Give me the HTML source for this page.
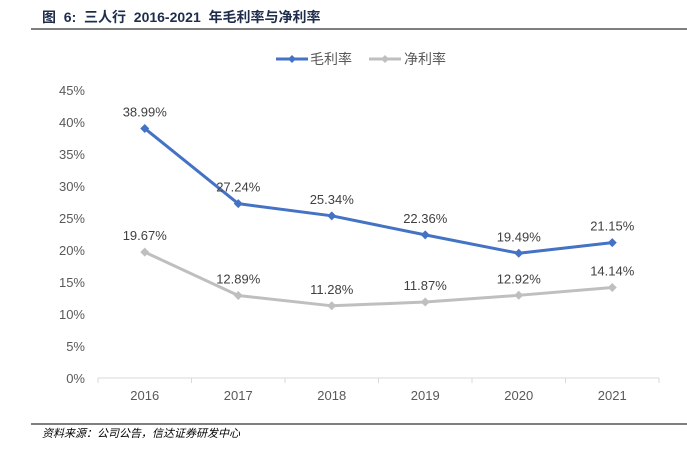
<!DOCTYPE html>
<html><head><meta charset="utf-8"><style>
body{margin:0;width:687px;height:448px;background:#fff;overflow:hidden;font-family:"Liberation Sans","Noto Sans CJK SC",sans-serif}
</style></head><body>
<svg width="687" height="448" font-family="Liberation Sans, Noto Sans CJK SC, sans-serif">
<text x="42" y="22" font-size="14" font-weight="bold" fill="#1f2d4d" xml:space="preserve" style="white-space:pre">图  6:  三人行  2016-2021  年毛利率与净利率</text>
<line x1="31" y1="29" x2="687" y2="29" stroke="#333" stroke-width="1.2"/>
<g>
<g><line x1="276" y1="59" x2="308" y2="59" stroke="#4472c4" stroke-width="3"/><path d="M292 55l4 4-4 4-4-4z" fill="#4472c4"/><text x="310" y="64" font-size="14" fill="#595959">毛利率</text></g>
<g><line x1="369" y1="59" x2="401" y2="59" stroke="#bfbfbf" stroke-width="3"/><path d="M385 55l4 4-4 4-4-4z" fill="#bfbfbf"/><text x="404" y="64" font-size="14" fill="#595959">净利率</text></g>
</g>
<g id="yaxis"></g>
<g id="xaxis"></g>
<g id="series"></g>
<line x1="31" y1="424" x2="687" y2="424" stroke="#333" stroke-width="1.2"/>
<text x="42" y="437" font-size="11" font-style="italic" fill="#000">资料来源：公司公告，信达证券研发中心</text>
</svg>
<script>
const categories=["2016","2017","2018","2019","2020","2021"];
const grossMargin=[38.99,27.24,25.34,22.36,19.49,21.15];
const netMargin=[19.67,12.89,11.28,11.87,12.92,14.14];
const yTicks=[0,5,10,15,20,25,30,35,40,45];
const NS="http://www.w3.org/2000/svg";
const x0=98,x1=659,yBase=378,yTop=90,yMax=45;
const xs=i=>x0+(x1-x0)/categories.length*(i+0.5);
const ys=v=>yBase-(yBase-yTop)*v/yMax;
function mk(t,a,p){const e=document.createElementNS(NS,t);for(const k in a)e.setAttribute(k,a[k]);p.appendChild(e);return e;}
const ya=document.getElementById('yaxis'),xa=document.getElementById('xaxis'),sg=document.getElementById('series');
yTicks.forEach(v=>{const t=mk('text',{x:85,y:ys(v)+5,'text-anchor':'end','font-size':13,fill:'#595959'},ya);t.textContent=v+'%';

});
mk('line',{x1:x0,y1:yBase,x2:x1,y2:yBase,stroke:'#d9d9d9'},xa);
for(let i=0;i<=categories.length;i++){const xx=x0+(x1-x0)/categories.length*i;mk('line',{x1:xx,y1:yBase,x2:xx,y2:yBase+5,stroke:'#d9d9d9'},xa);}
categories.forEach((c,i)=>{const t=mk('text',{x:xs(i),y:yBase+22,'text-anchor':'middle','font-size':13,fill:'#595959'},xa);t.textContent=c;

});
function series(data,color,name){
const g=mk('g',{},sg);


mk('polyline',{points:data.map((v,i)=>xs(i)+','+ys(v)).join(' '),fill:'none',stroke:color,'stroke-width':3,'stroke-linejoin':'round'},g);
data.forEach((v,i)=>{const x=xs(i),y=ys(v);
const p=mk('path',{d:`M${x} ${y-4.5}l4.5 4.5-4.5 4.5-4.5-4.5z`,fill:color},g);


const t=mk('text',{x:x,y:y-12,'text-anchor':'middle','font-size':13,fill:'#404040'},g);t.textContent=v.toFixed(2)+'%';

});}
series(netMargin,'#bfbfbf','net-margin-line');
series(grossMargin,'#4472c4','gross-margin-line');
</script>
</body></html>
